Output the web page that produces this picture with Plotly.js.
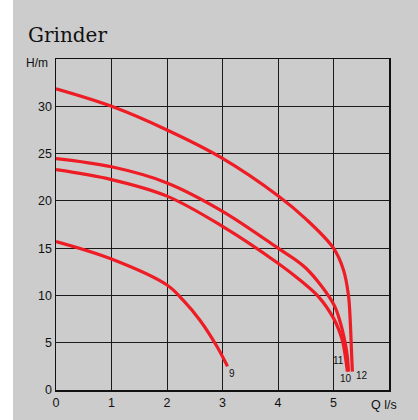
<!DOCTYPE html>
<html>
<head>
<meta charset="utf-8">
<script src="https://cdn.plot.ly/plotly-3.0.1.min.js"></script>
<style>html,body{margin:0;padding:0;background:#fff;}#chart{width:418px;height:420px;}</style>
</head>
<body>
<div id="chart"></div>
<script>
// Pump curves: flow Q (l/s) vs head H (m)
const curve9Q  = [0, 1, 2, 2.29, 2.59, 2.9, 3.09];
const curve9H  = [15.7, 13.85, 11.1, 9.5, 7.4, 4.6, 2.5];

const curve10Q = [0, 1, 2, 3, 4, 4.5, 5.0, 5.12, 5.21, 5.25, 5.27];
const curve10H = [24.47, 23.6, 21.9, 18.9, 15.0, 12.9, 9.1, 7.2, 5.0, 3.5, 1.95];

const curve11Q = [0, 1, 2, 3, 4, 4.4, 4.74, 5.0, 5.1, 5.17, 5.25];
const curve11H = [23.3, 22.25, 20.5, 17.3, 13.4, 11.6, 9.8, 7.6, 6.3, 5.0, 1.95];

const curve12Q = [0, 1, 2, 3, 4, 4.5, 5.0, 5.18, 5.27, 5.30, 5.325, 5.34];
const curve12H = [31.85, 30.0, 27.5, 24.5, 20.55, 18.1, 15.0, 12.7, 10.0, 7.5, 4.0, 1.95];

const curveLabels = ['9', '10', '11', '12'];
const labelQ = [3.18, 5.23, 5.09, 5.52];
const labelH = [1.75, 1.25, 3.1, 1.5];

const xTicks = [0, 1, 2, 3, 4, 5];
const yTicks = [0, 5, 10, 15, 20, 25, 30];

const red = '#ee1c25';
function curve(q, h, name) {
  return {x: q, y: h, name: name, type: 'scatter', mode: 'lines',
          line: {color: red, width: 3.2, shape: 'spline', smoothing: 1.0},
          hoverinfo: 'skip', cliponaxis: false};
}
const data = [
  curve(curve9Q, curve9H, '9'),
  curve(curve10Q, curve10H, '10'),
  curve(curve11Q, curve11H, '11'),
  curve(curve12Q, curve12H, '12')
];

const font = 'Liberation Sans, Arial, sans-serif';
const annotations = curveLabels.map((t, i) => ({
  x: labelQ[i], y: labelH[i], xref: 'x', yref: 'y', text: t, showarrow: false,
  font: {family: font, size: 10, color: '#111'}, xanchor: 'center', yanchor: 'middle'
}));
annotations.push({x: -6/333, y: 1.0, xref: 'paper', yref: 'paper', text: 'H/m',
  showarrow: false, xanchor: 'right', yanchor: 'middle', yshift: -4,
  font: {family: font, size: 12, color: '#111'}});
annotations.push({x: 1.0, y: 0, xref: 'paper', yref: 'paper', text: 'Q l/s',
  showarrow: false, xanchor: 'right', yanchor: 'middle', yshift: -15, xshift: 10,
  font: {family: font, size: 12.5, color: '#111'}});

const layout = {
  width: 418, height: 420,
  margin: {l: 56, r: 29, t: 59, b: 30, pad: 0},
  paper_bgcolor: '#ffffff',
  plot_bgcolor: 'rgba(0,0,0,0)',
  showlegend: false,
  title: {text: 'Grinder', x: 28/418, xanchor: 'left', y: 1 - 35/420, yanchor: 'middle',
          font: {family: 'DejaVu Serif, serif', size: 20, color: '#111'}},
  shapes: [{type: 'rect', xref: 'paper', yref: 'paper', layer: 'below',
            x0: (13-56)/333, x1: (418-56)/333, y0: (390-420)/331, y1: (390-0)/331,
            fillcolor: '#cccccc', line: {width: 0}}],
  xaxis: {range: [0, 6], tickvals: xTicks, ticktext: xTicks.map(String),
          showgrid: true, gridcolor: '#1a1a1a', gridwidth: 1,
          showline: true, linecolor: '#111', linewidth: 1.5, mirror: true,
          zeroline: false, ticks: '', ticklen: 0,
          tickfont: {family: font, size: 12.5, color: '#111'}, fixedrange: true},
  yaxis: {range: [0, 35], tickvals: yTicks, ticktext: yTicks.map(String),
          showgrid: true, gridcolor: '#1a1a1a', gridwidth: 1,
          showline: true, linecolor: '#111', linewidth: 1.5, mirror: true,
          zeroline: false, ticks: '', ticklen: 0,
          tickfont: {family: font, size: 12.5, color: '#111'}, fixedrange: true},
  annotations: annotations
};
Plotly.newPlot('chart', data, layout, {displayModeBar: false, staticPlot: true});
</script>
</body>
</html>
